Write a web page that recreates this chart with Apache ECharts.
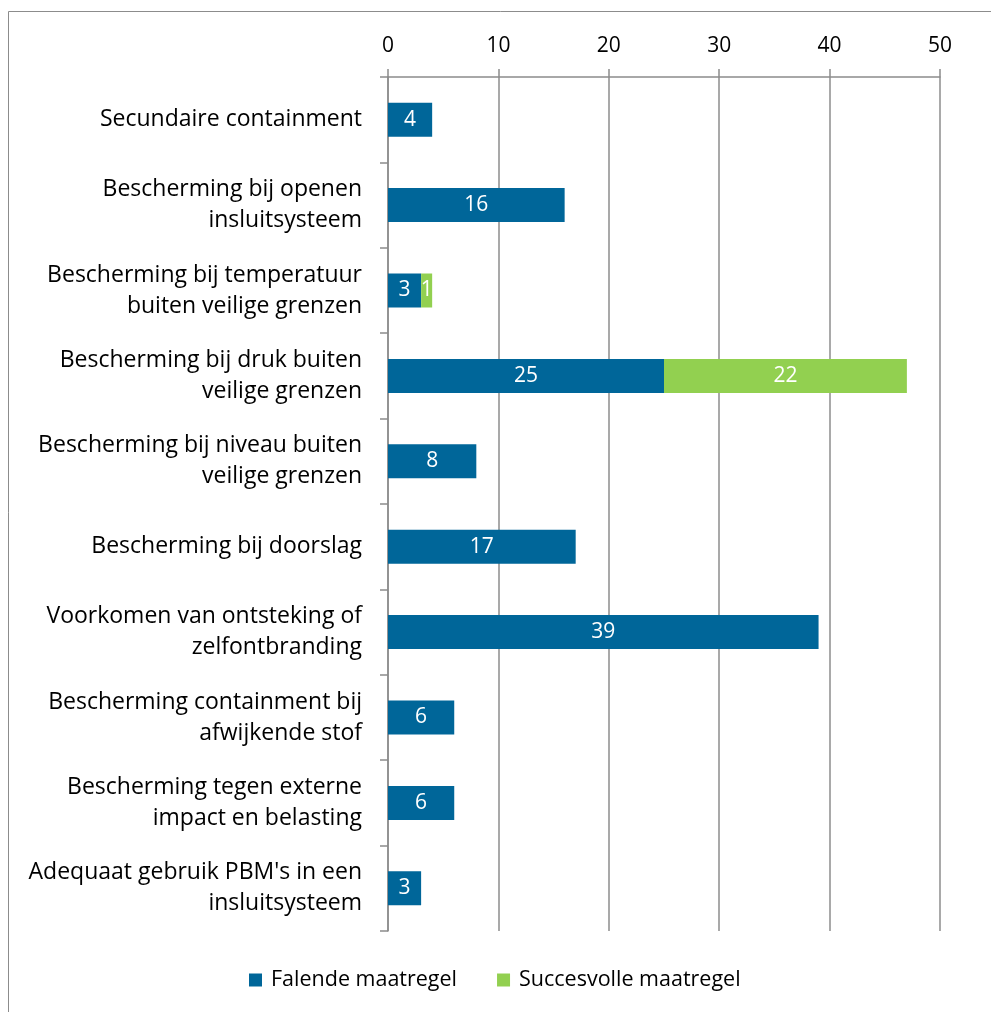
<!DOCTYPE html>
<html>
<head>
<meta charset="utf-8">
<script src="https://cdn.jsdelivr.net/npm/echarts@6/dist/echarts.min.js"></script>
<style>
html,body{margin:0;padding:0;background:#fff;}
#chart{width:991px;height:1012px;}
</style>
</head>
<body>
<div id="chart"></div>
<script>
const categories = [
  "Secundaire containment",
  "Bescherming bij openen\ninsluitsysteem",
  "Bescherming bij temperatuur\nbuiten veilige grenzen",
  "Bescherming bij druk buiten\nveilige grenzen",
  "Bescherming bij niveau buiten\nveilige grenzen",
  "Bescherming bij doorslag",
  "Voorkomen van ontsteking of\nzelfontbranding",
  "Bescherming containment bij\nafwijkende stof",
  "Bescherming tegen externe\nimpact en belasting",
  "Adequaat gebruik PBM's in een\ninsluitsysteem"
];
const falende = [4, 16, 3, 25, 8, 17, 39, 6, 6, 3];
const succesvol = [null, null, 1, 22, null, null, null, null, null, null];
const seriesNames = ["Falende maatregel", "Succesvolle maatregel"];

const FONT = "Open Sans";
const chart = echarts.init(document.getElementById('chart'));
chart.setOption({
  animation: false,
  backgroundColor: '#ffffff',
  textStyle: { fontFamily: FONT },
  graphic: [{
    type: 'rect',
    shape: { x: 8.5, y: 11.5, width: 1000, height: 1010 },
    style: { fill: 'none', stroke: '#8c8c8c', lineWidth: 1 },
    silent: true
  }],
  grid: { left: 388, right: 51, top: 77, bottom: 81, containLabel: false },
  legend: {
    bottom: 16,
    left: 244,
    itemWidth: 13,
    itemHeight: 13,
    itemGap: 40,
    icon: 'rect',
    textStyle: { fontFamily: FONT, fontSize: 21.5, color: '#000', padding: [0, 0, 0, 4] },
    data: seriesNames
  },
  xAxis: {
    type: 'value',
    position: 'top',
    min: 0, max: 50, interval: 10,
    axisLine: { show: true, lineStyle: { color: '#8c8c8c', width: 1.5 } },
    axisTick: { show: true, inside: false, length: 8, lineStyle: { color: '#8c8c8c', width: 1.5 } },
    axisLabel: { fontFamily: FONT, fontSize: 21, color: '#000', margin: 20 },
    splitLine: { show: true, lineStyle: { color: '#8c8c8c', width: 1.5 } }
  },
  yAxis: {
    type: 'category',
    inverse: true,
    data: categories,
    axisLine: { show: true, lineStyle: { color: '#8c8c8c', width: 1.5 } },
    axisTick: { show: true, length: 8, lineStyle: { color: '#8c8c8c', width: 1.5 } },
    axisLabel: { fontFamily: FONT, fontSize: 23, color: '#000', margin: 26, lineHeight: 31, align: 'right', padding: [5, 0, 0, 0] }
  },
  series: [
    {
      name: seriesNames[0], type: 'bar', stack: 'total',
      data: falende, barWidth: 34,
      itemStyle: { color: '#006699' },
      label: { show: true, position: 'inside', color: '#fff', fontFamily: FONT, fontSize: 21, padding: [4, 0, 0, 0] }
    },
    {
      name: seriesNames[1], type: 'bar', stack: 'total',
      data: succesvol, barWidth: 34,
      itemStyle: { color: '#92d050' },
      label: { show: true, position: 'inside', color: '#fff', fontFamily: FONT, fontSize: 21, padding: [4, 0, 0, 0] }
    }
  ]
});
</script>
</body>
</html>
